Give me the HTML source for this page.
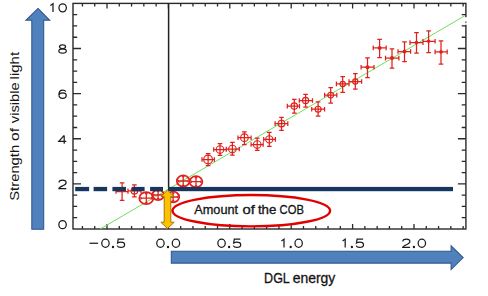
<!DOCTYPE html>
<html><head><meta charset="utf-8"><style>
html,body{margin:0;padding:0;background:#fff;}
svg{display:block;}
</style></head><body>
<svg width="488" height="296" viewBox="0 0 488 296">
<rect width="488" height="296" fill="#fff"/>
<path d="M38,8.4 L49.7,20.3 L43.7,20.3 L43.7,229.3 L31.8,229.3 L31.8,20.3 L25.9,20.3 Z" fill="#4F81BD" stroke="#30568A" stroke-width="1.05"/>
<path d="M463.2,257.6 L451.1,245.8 L451.1,251.3 L171.3,251.3 L171.3,263.1 L451.1,263.1 L451.1,269.6 Z" fill="#4F81BD" stroke="#30568A" stroke-width="1.05"/>
<rect x="73.0" y="3.4" width="392.9" height="225.6" fill="none" stroke="#2a2a2a" stroke-width="1.4"/>
<path d="M73.0,217.72h4.2M465.9,217.72h-4.2M73.0,206.44h4.2M465.9,206.44h-4.2M73.0,195.16h4.2M465.9,195.16h-4.2M73.0,183.88h8M465.9,183.88h-8M73.0,172.60h4.2M465.9,172.60h-4.2M73.0,161.32h4.2M465.9,161.32h-4.2M73.0,150.04h4.2M465.9,150.04h-4.2M73.0,138.76h8M465.9,138.76h-8M73.0,127.48h4.2M465.9,127.48h-4.2M73.0,116.20h4.2M465.9,116.20h-4.2M73.0,104.92h4.2M465.9,104.92h-4.2M73.0,93.64h8M465.9,93.64h-8M73.0,82.36h4.2M465.9,82.36h-4.2M73.0,71.08h4.2M465.9,71.08h-4.2M73.0,59.80h4.2M465.9,59.80h-4.2M73.0,48.52h8M465.9,48.52h-8M73.0,37.24h4.2M465.9,37.24h-4.2M73.0,25.96h4.2M465.9,25.96h-4.2M73.0,14.68h4.2M465.9,14.68h-4.2M82.44,229.0v-3M82.44,3.4v3M94.72,229.0v-3M94.72,3.4v3M107.00,229.0v-5M107.00,3.4v5M119.28,229.0v-3M119.28,3.4v3M131.56,229.0v-3M131.56,3.4v3M143.84,229.0v-3M143.84,3.4v3M156.12,229.0v-3M156.12,3.4v3M168.40,229.0v-5M168.40,3.4v5M180.68,229.0v-3M180.68,3.4v3M192.96,229.0v-3M192.96,3.4v3M205.24,229.0v-3M205.24,3.4v3M217.52,229.0v-3M217.52,3.4v3M229.80,229.0v-5M229.80,3.4v5M242.08,229.0v-3M242.08,3.4v3M254.36,229.0v-3M254.36,3.4v3M266.64,229.0v-3M266.64,3.4v3M278.92,229.0v-3M278.92,3.4v3M291.20,229.0v-5M291.20,3.4v5M303.48,229.0v-3M303.48,3.4v3M315.76,229.0v-3M315.76,3.4v3M328.04,229.0v-3M328.04,3.4v3M340.32,229.0v-3M340.32,3.4v3M352.60,229.0v-5M352.60,3.4v5M364.88,229.0v-3M364.88,3.4v3M377.16,229.0v-3M377.16,3.4v3M389.44,229.0v-3M389.44,3.4v3M401.72,229.0v-3M401.72,3.4v3M414.00,229.0v-5M414.00,3.4v5M426.28,229.0v-3M426.28,3.4v3M438.56,229.0v-3M438.56,3.4v3M450.84,229.0v-3M450.84,3.4v3M463.12,229.0v-3M463.12,3.4v3" stroke="#2a2a2a" stroke-width="1.3" fill="none"/>
<g fill="none" stroke="#1c1c1c" stroke-width="1.25"><path d="M50.40,5.50 L53.00,3.70 V12.00"/><ellipse cx="62.65" cy="7.85" rx="3.7" ry="4.1"/><ellipse cx="62.55" cy="46.75" rx="3.0" ry="1.85"/><ellipse cx="62.55" cy="51.05" rx="3.7" ry="2.15"/><path d="M65.80,91.60 C65.40,90.50 64.20,90.00 62.80,90.00 C60.30,90.00 58.90,92.00 58.90,94.50 C58.90,96.90 60.30,98.30 62.55,98.30 C64.70,98.30 66.20,97.10 66.20,95.50 C66.20,93.90 64.70,92.90 62.70,92.90 C60.70,92.90 59.10,93.90 58.90,95.20 "/><path d="M64.20,135.40 L58.80,141.40 L66.30,141.40 M64.20,135.40 L64.20,143.70 "/><path d="M59.00,182.60 C59.00,181.00 60.40,180.20 62.50,180.20 C64.60,180.20 66.10,181.20 66.10,182.70 C66.10,184.20 64.80,184.90 62.80,185.80 C60.60,186.80 59.00,187.50 58.90,188.50 L66.30,188.50 "/><ellipse cx="62.55" cy="224.65" rx="3.7" ry="4.1"/><path d="M89.50,243.25 H98.10"/><ellipse cx="105.45" cy="243.25" rx="3.7" ry="4.1"/><circle cx="113.00" cy="247.00" r="0.55"/><path d="M124.20,239.10 L118.20,239.10 L117.60,242.90 C118.50,242.30 119.60,242.00 120.80,242.00 C123.10,242.00 124.60,243.10 124.60,244.70 C124.60,246.40 123.00,247.40 120.80,247.40 C119.00,247.40 117.60,246.70 117.20,245.60 "/><ellipse cx="160.45" cy="243.25" rx="3.7" ry="4.1"/><circle cx="168.00" cy="247.00" r="0.55"/><ellipse cx="175.95" cy="243.25" rx="3.7" ry="4.1"/><ellipse cx="221.55" cy="243.25" rx="3.7" ry="4.1"/><circle cx="229.10" cy="247.00" r="0.55"/><path d="M240.30,239.10 L234.30,239.10 L233.70,242.90 C234.60,242.30 235.70,242.00 236.90,242.00 C239.20,242.00 240.70,243.10 240.70,244.70 C240.70,246.40 239.10,247.40 236.90,247.40 C235.10,247.40 233.70,246.70 233.30,245.60 "/><path d="M281.40,240.90 L284.00,239.10 V247.40"/><circle cx="290.70" cy="247.00" r="0.55"/><ellipse cx="298.65" cy="243.25" rx="3.7" ry="4.1"/><path d="M342.60,240.90 L345.20,239.10 V247.40"/><circle cx="351.90" cy="247.00" r="0.55"/><path d="M363.10,239.10 L357.10,239.10 L356.50,242.90 C357.40,242.30 358.50,242.00 359.70,242.00 C362.00,242.00 363.50,243.10 363.50,244.70 C363.50,246.40 361.90,247.40 359.70,247.40 C357.90,247.40 356.50,246.70 356.10,245.60 "/><path d="M402.80,241.50 C402.80,239.90 404.20,239.10 406.30,239.10 C408.40,239.10 409.90,240.10 409.90,241.60 C409.90,243.10 408.60,243.80 406.60,244.70 C404.40,245.70 402.80,246.40 402.70,247.40 L410.10,247.40 "/><circle cx="413.90" cy="247.00" r="0.55"/><ellipse cx="421.85" cy="243.25" rx="3.7" ry="4.1"/></g>
<g fill="#1c1c1c"></g>
<line x1="100.2" y1="229" x2="465" y2="15.6" stroke="#6ee05a" stroke-width="1.0"/>
<rect x="464.3" y="17.2" width="3.2" height="7.6" fill="#fff"/>
<rect x="465.2" y="21.3" width="1.3" height="1.8" fill="#8a5a4a"/>
<line x1="168.6" y1="3.4" x2="168.6" y2="188" stroke="#222" stroke-width="1.5"/>
<path d="M134.4,184.8V196.9M132.1,184.8h4.6M132.1,196.9h4.6M128,190.8H141M128,188.5v4.6M141,188.5v4.6M220,143.6V155.4M217.7,143.6h4.6M217.7,155.4h4.6M213.7,149.5H226.3M213.7,147.2v4.6M226.3,147.2v4.6M232.4,142.4V155M230.1,142.4h4.6M230.1,155h4.6M226.2,149H239.3M226.2,146.7v4.6M239.3,146.7v4.6M244.4,131.8V144.5M242.1,131.8h4.6M242.1,144.5h4.6M238,137.7H251.1M238,135.39999999999998v4.6M251.1,135.39999999999998v4.6M257.2,138.2V150.3M254.89999999999998,138.2h4.6M254.89999999999998,150.3h4.6M251.1,144.5H263.2M251.1,142.2v4.6M263.2,142.2v4.6M269.3,132.3V146.3M267.0,132.3h4.6M267.0,146.3h4.6M263.7,139.4H275.4M263.7,137.1v4.6M275.4,137.1v4.6M281.5,117.3V130.4M279.2,117.3h4.6M279.2,130.4h4.6M275.1,123.6H287.8M275.1,121.3v4.6M287.8,121.3v4.6M294.3,99.3V113.2M292.0,99.3h4.6M292.0,113.2h4.6M287.3,106.1H299.5M287.3,103.8v4.6M299.5,103.8v4.6M305.6,94.3V107.2M303.3,94.3h4.6M303.3,107.2h4.6M299.3,100.5H312.5M299.3,98.2v4.6M312.5,98.2v4.6M318.1,101.9V116M315.8,101.9h4.6M315.8,116h4.6M311.7,109.2H324.6M311.7,106.9v4.6M324.6,106.9v4.6M330.7,87.5V103.1M328.4,87.5h4.6M328.4,103.1h4.6M324.6,95.1H336.8M324.6,92.8v4.6M336.8,92.8v4.6M342.7,76.6V92.3M340.4,76.6h4.6M340.4,92.3h4.6M336.4,83.9H349M336.4,81.60000000000001v4.6M349,81.60000000000001v4.6M355.3,73.7V89.1M353.0,73.7h4.6M353.0,89.1h4.6M349,81.5H361.6M349,79.2v4.6M361.6,79.2v4.6M367.5,57.8V77.6M365.2,57.8h4.6M365.2,77.6h4.6M361.1,67.2H374M361.1,64.9v4.6M374,64.9v4.6M379.6,39.3V57.5M377.3,39.3h4.6M377.3,57.5h4.6M373.2,47.9H386.2M373.2,45.6v4.6M386.2,45.6v4.6M392,48.8V68M389.7,48.8h4.6M389.7,68h4.6M385.5,58.1H398.9M385.5,55.800000000000004v4.6M398.9,55.800000000000004v4.6M404.5,41.9V61.7M402.2,41.9h4.6M402.2,61.7h4.6M398,51.5H410.6M398,49.2v4.6M410.6,49.2v4.6M416.5,32.6V53M414.2,32.6h4.6M414.2,53h4.6M410,42.6H423M410,40.300000000000004v4.6M423,40.300000000000004v4.6M428.6,30.8V52.5M426.3,30.8h4.6M426.3,52.5h4.6M423,41.3H435.1M423,39.0v4.6M435.1,39.0v4.6M441,40.8V64.2M438.7,40.8h4.6M438.7,64.2h4.6M435.1,51.9H447.2M435.1,49.6v4.6M447.2,49.6v4.6M122.1,182.8V200.4M119.8,182.8h4.6M119.8,200.4h4.6M116,191.5H128M116,189.2v4.6M128,189.2v4.6M208.1,153.6V165.5M205.79999999999998,153.6h4.6M205.79999999999998,165.5h4.6M202,159.5H214.4M202,157.2v4.6M214.4,157.2v4.6" stroke="#e0201c" stroke-width="1.25" fill="none"/>
<circle cx="134.4" cy="190.8" r="3.3" fill="none" stroke="#e0201c" stroke-width="1.15"/>
<circle cx="220" cy="149.5" r="3.8" fill="none" stroke="#e0201c" stroke-width="1.15"/>
<circle cx="232.4" cy="149" r="3.8" fill="none" stroke="#e0201c" stroke-width="1.15"/>
<circle cx="244.4" cy="137.7" r="3.8" fill="none" stroke="#e0201c" stroke-width="1.15"/>
<circle cx="257.2" cy="144.5" r="3.8" fill="none" stroke="#e0201c" stroke-width="1.15"/>
<circle cx="269.3" cy="139.4" r="3.6" fill="none" stroke="#e0201c" stroke-width="1.15"/>
<circle cx="281.5" cy="123.6" r="3.3" fill="none" stroke="#e0201c" stroke-width="1.15"/>
<circle cx="294.3" cy="106.1" r="3.2" fill="none" stroke="#e0201c" stroke-width="1.15"/>
<circle cx="305.6" cy="100.5" r="3.1" fill="none" stroke="#e0201c" stroke-width="1.15"/>
<circle cx="318.1" cy="109.2" r="3.0" fill="none" stroke="#e0201c" stroke-width="1.15"/>
<circle cx="330.7" cy="95.1" r="2.9" fill="none" stroke="#e0201c" stroke-width="1.15"/>
<circle cx="342.7" cy="83.9" r="2.6" fill="none" stroke="#e0201c" stroke-width="1.15"/>
<circle cx="355.3" cy="81.5" r="2.6" fill="none" stroke="#e0201c" stroke-width="1.15"/>
<circle cx="367.5" cy="67.2" r="2.0" fill="#e0201c"/>
<circle cx="379.6" cy="47.9" r="2.0" fill="#e0201c"/>
<circle cx="392" cy="58.1" r="2.0" fill="#e0201c"/>
<circle cx="404.5" cy="51.5" r="1.9" fill="#e0201c"/>
<circle cx="416.5" cy="42.6" r="1.8" fill="#e0201c"/>
<circle cx="428.6" cy="41.3" r="1.8" fill="#e0201c"/>
<circle cx="441" cy="51.9" r="1.8" fill="#e0201c"/>
<circle cx="208.1" cy="159.5" r="4.4" fill="none" stroke="#e0201c" stroke-width="1.15"/>
<ellipse cx="146.3" cy="198.2" rx="7" ry="6" fill="none" stroke="#e0201c" stroke-width="1.75"/>
<ellipse cx="158.1" cy="195" rx="6" ry="5" fill="none" stroke="#e0201c" stroke-width="1.75"/>
<ellipse cx="173.1" cy="197" rx="6.1" ry="5.3" fill="none" stroke="#e0201c" stroke-width="1.75"/>
<ellipse cx="183.2" cy="181" rx="6.4" ry="5.6" fill="none" stroke="#e0201c" stroke-width="1.75"/>
<ellipse cx="196" cy="181.7" rx="6.4" ry="5.5" fill="none" stroke="#e0201c" stroke-width="1.75"/>
<path d="M146.3,193.5V202.89999999999998M145.0,193.5h2.6M145.0,202.89999999999998h2.6M140.9,198.2H151.70000000000002M140.9,196.89999999999998v2.6M151.70000000000002,196.89999999999998v2.6M158.1,191.3V198.7M156.79999999999998,191.3h2.6M156.79999999999998,198.7h2.6M153.7,195H162.5M153.7,193.7v2.6M162.5,193.7v2.6M173.1,193.0V201.0M171.79999999999998,193.0h2.6M171.79999999999998,201.0h2.6M168.6,197H177.6M168.6,195.7v2.6M177.6,195.7v2.6M183.2,176.7V185.3M181.89999999999998,176.7h2.6M181.89999999999998,185.3h2.6M178.39999999999998,181H188.0M178.39999999999998,179.7v2.6M188.0,179.7v2.6M196,177.5V185.89999999999998M194.7,177.5h2.6M194.7,185.89999999999998h2.6M191.2,181.7H200.8M191.2,180.39999999999998v2.6M200.8,180.39999999999998v2.6" stroke="#e0201c" stroke-width="1.3" fill="none"/>
<rect x="75.2" y="186.9" width="13.9" height="4.3" fill="#17375E"/>
<rect x="93.6" y="186.9" width="13.5" height="4.3" fill="#17375E"/>
<rect x="112.4" y="186.9" width="13.6" height="4.3" fill="#17375E"/>
<rect x="131.7" y="186.9" width="12.9" height="4.3" fill="#17375E"/>
<rect x="150.1" y="186.9" width="12.9" height="4.3" fill="#17375E"/>
<rect x="168" y="186.9" width="285.0" height="4.3" fill="#17375E"/>
<path d="M167.5,190.2 L174.1,196.6 L170.8,196.6 L170.8,222.2 L174.2,222.2 L167.5,228.6 L160.9,222.2 L164.2,222.2 L164.2,196.6 L160.9,196.6 Z" fill="#FFC000" stroke="#9C7500" stroke-width="0.95"/>
<ellipse cx="251.3" cy="210.7" rx="78.8" ry="15.7" fill="none" stroke="#e00000" stroke-width="2.4"/>
<text transform="translate(194.30,214.00) scale(1.0263,1)" font-size="12.4" fill="#141414" stroke="#141414" stroke-width="0.3" style="font-family:'Liberation Sans',sans-serif">Amount</text>
<text transform="translate(242.44,214.00) scale(1.1904,1)" font-size="12.4" fill="#141414" stroke="#141414" stroke-width="0.3" style="font-family:'Liberation Sans',sans-serif">of</text>
<text transform="translate(257.90,214.00) scale(1.0696,1)" font-size="12.4" fill="#141414" stroke="#141414" stroke-width="0.3" style="font-family:'Liberation Sans',sans-serif">the</text>
<text transform="translate(279.57,214.00) scale(0.9042,1)" font-size="12.4" fill="#141414" stroke="#141414" stroke-width="0.3" style="font-family:'Liberation Sans',sans-serif">COB</text>
<text transform="translate(264.12,282.90) scale(0.9053,1)" font-size="13.8" fill="#141414" stroke="#141414" stroke-width="0.3" style="font-family:'Liberation Sans',sans-serif">DGL</text>
<text transform="translate(292.66,282.90) scale(1.0104,1)" font-size="13.8" fill="#141414" stroke="#141414" stroke-width="0.3" style="font-family:'Liberation Sans',sans-serif">energy</text>
<g transform="translate(18.7,199.8) rotate(-90)"><text transform="translate(-0.96,0.00) scale(1.1221,1)" font-size="13.2" fill="#141414" stroke="#141414" stroke-width="0" style="font-family:'Liberation Sans',sans-serif">Strength</text><text transform="translate(58.91,0.00) scale(1.1841,1)" font-size="13.2" fill="#141414" stroke="#141414" stroke-width="0" style="font-family:'Liberation Sans',sans-serif">of</text><text transform="translate(76.60,0.00) scale(1.1177,1)" font-size="13.2" fill="#141414" stroke="#141414" stroke-width="0" style="font-family:'Liberation Sans',sans-serif">visible</text><text transform="translate(120.36,0.00) scale(1.1393,1)" font-size="13.2" fill="#141414" stroke="#141414" stroke-width="0" style="font-family:'Liberation Sans',sans-serif">light</text></g>
</svg>
</body></html>
